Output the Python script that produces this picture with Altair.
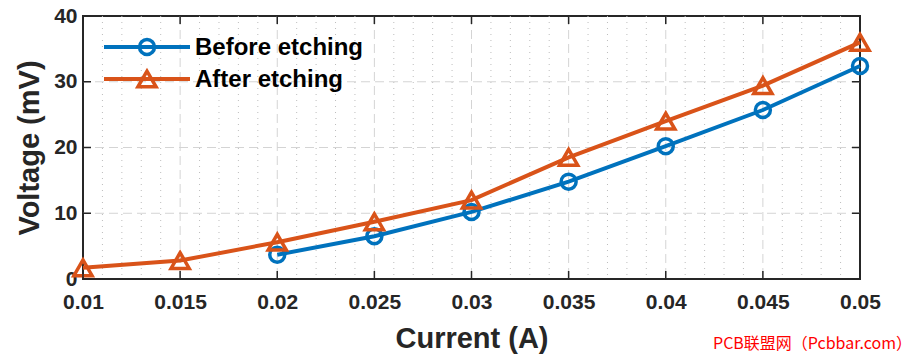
import altair as alt
import pandas as pd

# ---- data ----
current = [0.01, 0.015, 0.02, 0.025, 0.03, 0.035, 0.04, 0.045, 0.05]
before = [None, None, 3.7, 6.5, 10.2, 14.8, 20.2, 25.7, 32.4]
after = [1.7, 2.8, 5.6, 8.7, 12.0, 18.5, 24.0, 29.4, 36.0]
series_names = ["Before etching", "After etching"]
colors = ["#0072BD", "#D95319"]

x_major = [0.01, 0.015, 0.02, 0.025, 0.03, 0.035, 0.04, 0.045, 0.05]
x_minor = [0.011, 0.012, 0.013, 0.014, 0.016, 0.017, 0.018, 0.019,
           0.021, 0.022, 0.023, 0.024, 0.026, 0.027, 0.028, 0.029,
           0.031, 0.032, 0.033, 0.034, 0.036, 0.037, 0.038, 0.039,
           0.041, 0.042, 0.043, 0.044, 0.046, 0.047, 0.048, 0.049]
y_major = [0, 10, 20, 30, 40]

W, H = 777, 263
FONT = "Liberation Sans"
TXT = "#262626"

rows = []
for c, b, a in zip(current, before, after):
    if b is not None:
        rows.append({"current": c, "voltage": b, "series": series_names[0]})
    rows.append({"current": c, "voltage": a, "series": series_names[1]})
df = pd.DataFrame(rows)

xscale = alt.Scale(domain=[0.01, 0.05], nice=False, zero=False)
yscale = alt.Scale(domain=[0, 40], nice=False)
cscale = alt.Scale(domain=series_names, range=colors)

xaxis = alt.Axis(values=x_major, format=".3~f", grid=False, ticks=False, domain=False,
                 labelFlush=False, labelOverlap=False,
                 labelFont=FONT, labelFontWeight="bold", labelFontSize=21, labelColor=TXT,
                 labelPadding=12, title="Current (A)", titleFont=FONT, titleFontWeight="bold",
                 titleFontSize=29, titleColor=TXT, titlePadding=12)
yaxis = alt.Axis(values=y_major, grid=False, ticks=False, domain=False,
                 labelFlush=False, labelOverlap=False,
                 labelFont=FONT, labelFontWeight="bold", labelFontSize=21, labelColor=TXT,
                 labelPadding=6, title="Voltage (mV)", titleFont=FONT, titleFontWeight="bold",
                 titleFontSize=29, titleColor=TXT, titlePadding=9)


def X(field):
    return alt.X(field, scale=xscale, axis=xaxis, title="Current (A)")


def Y(field):
    return alt.Y(field, scale=yscale, axis=yaxis, title="Voltage (mV)")


# grid
gx_minor = alt.Chart(pd.DataFrame({"v": x_minor})).mark_rule(
    color="#bdbdbd", strokeWidth=1, strokeDash=[1, 5]
).encode(x=X("v:Q"))
gx_major = alt.Chart(pd.DataFrame({"v": x_major[1:-1]})).mark_rule(
    color="#d4d4d4", strokeWidth=1, strokeDash=[9, 5]
).encode(x=X("v:Q"))
gy_major = alt.Chart(pd.DataFrame({"v": y_major[1:-1]})).mark_rule(
    color="#d4d4d4", strokeWidth=1, strokeDash=[9, 5]
).encode(y=Y("v:Q"))

lines = alt.Chart(df).mark_line(strokeWidth=4).encode(
    x=X("current:Q"),
    y=Y("voltage:Q"),
    color=alt.Color("series:N", scale=cscale, legend=None),
    detail="series:N",
)

pts_before = alt.Chart(df[df.series == series_names[0]]).mark_point(
    shape="circle", size=225, filled=False, strokeWidth=3.5, color=colors[0], opacity=1
).encode(x=X("current:Q"), y=Y("voltage:Q"))
pts_after = alt.Chart(df[df.series == series_names[1]]).mark_point(
    shape="triangle-up", size=330, filled=False, strokeWidth=3.5, color=colors[1], opacity=1
).encode(x=X("current:Q"), y=Y("voltage:Q"))

# inward ticks on all four sides
tk = dict(color=TXT, strokeWidth=1.5)
tx_bot = alt.Chart(pd.DataFrame({"v": x_major})).mark_rule(**tk).encode(
    x=X("v:Q"), y=alt.value(H), y2=alt.value(H - 8))
tx_top = alt.Chart(pd.DataFrame({"v": x_major})).mark_rule(**tk).encode(
    x=X("v:Q"), y=alt.value(0), y2=alt.value(8))
ty_left = alt.Chart(pd.DataFrame({"v": y_major})).mark_rule(**tk).encode(
    y=Y("v:Q"), x=alt.value(0), x2=alt.value(8))
ty_right = alt.Chart(pd.DataFrame({"v": y_major})).mark_rule(**tk).encode(
    y=Y("v:Q"), x=alt.value(W), x2=alt.value(W - 8))

# legend (inside, top-left)
legend_layers = []
shapes = ["circle", "triangle-up"]
sizes = [225, 330]
for i, name in enumerate(series_names):
    yy = 31 + 32 * i
    d = pd.DataFrame({"label": [name]})
    legend_layers.append(alt.Chart(d).mark_rule(color=colors[i], strokeWidth=4).encode(
        x=alt.value(21), x2=alt.value(107), y=alt.value(yy)))
    legend_layers.append(alt.Chart(d).mark_point(
        shape=shapes[i], size=sizes[i], filled=False, strokeWidth=3.5, color=colors[i], opacity=1
    ).encode(x=alt.value(64), y=alt.value(yy)))
    legend_layers.append(alt.Chart(d).mark_text(
        align="left", baseline="middle", font=FONT, fontWeight="bold", fontSize=24, color="black"
    ).encode(x=alt.value(112), y=alt.value(yy + 1), text="label:N"))

watermark = alt.Chart(pd.DataFrame({"t": ["PCB联盟网（Pcbbar.com）"]})).mark_text(
    align="left", baseline="alphabetic", font="Noto Sans CJK SC", fontSize=16, color="#ff0000"
).encode(x=alt.value(630), y=alt.value(333), text="t:N")

chart = alt.layer(
    gx_minor, gx_major, gy_major, lines, pts_before, pts_after,
    tx_bot, tx_top, ty_left, ty_right, *legend_layers, watermark
).properties(
    width=W, height=H,
    autosize=alt.AutoSizeParams(type="none"),
    padding={"left": 83, "top": 16, "right": 57, "bottom": 78},
    background="white",
).configure_view(stroke=TXT, strokeWidth=2)

chart.save("out.html", embed_options={"renderer": "svg", "actions": False})
